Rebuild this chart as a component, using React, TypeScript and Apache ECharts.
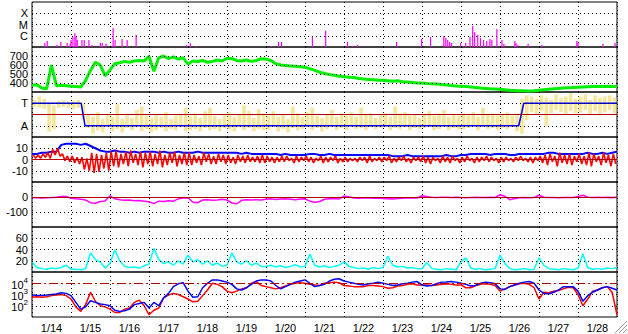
import React, { useEffect, useRef } from 'react';
import * as echarts from 'echarts';

// ---------- data ----------
const DAY_LABELS = ['1/14', '1/15', '1/16', '1/17', '1/18', '1/19', '1/20', '1/21', '1/22', '1/23', '1/24', '1/25', '1/26', '1/27', '1/28'];
const STEP = 0.125; // days (3-hour samples), t = 0 at 1/14 00:00

// X-ray flares: time (days) and peak flux (W/m^2)
const flareDays = [0.33, 0.39, 0.64, 0.74, 0.9, 0.98, 1.0, 1.05, 1.1, 1.13, 1.16, 1.28, 1.34, 1.46, 1.54, 1.75, 1.8, 1.9, 2.08, 2.13, 2.31, 2.44, 2.67, 3.96, 4.06, 4.21, 6.14, 6.32, 6.4, 7.19, 7.53, 8.09, 8.22, 8.35, 9.35, 9.99, 10.22, 10.56, 10.61, 10.66, 10.71, 10.76, 10.99, 11.12, 11.23, 11.3, 11.35, 11.43, 11.5, 11.58, 11.66, 11.74, 11.79, 11.92, 12.05, 12.1, 12.38, 12.41, 12.46, 12.72, 13.07, 13.97, 14.0, 14.64, 14.95];
const flareFlux = [2.3e-7, 3.4e-7, 1.5e-7, 2.8e-7, 2.3e-7, 1.9e-7, 4.2e-7, 7.8e-7, 1.7e-6, 7.8e-7, 4.2e-7, 4.2e-7, 4.2e-7, 4.2e-7, 1.5e-7, 2.3e-7, 2.3e-7, 1.9e-7, 4.9e-6, 4.2e-7, 5.1e-7, 4.2e-7, 1.2e-6, 1.5e-7, 2.3e-7, 1.2e-7, 1.2e-7, 2.8e-7, 2.8e-7, 8.3e-7, 2.8e-6, 2.8e-7, 1.2e-7, 1.5e-7, 2.8e-7, 5.1e-7, 7.8e-7, 9.5e-7, 6.3e-7, 4.2e-7, 2.8e-7, 2.3e-7, 2.3e-7, 2.3e-7, 7.8e-7, 7.4e-6, 2.1e-6, 1.2e-6, 6.3e-7, 4.2e-7, 3.4e-7, 5.1e-7, 4.2e-7, 4.0e-6, 4.2e-7, 1.9e-7, 3.4e-7, 2.3e-7, 1.5e-7, 1.9e-7, 1.5e-7, 3.4e-7, 2.3e-7, 1.9e-7, 2.3e-7];

// Solar wind speed (km/s), 3-hourly
const speed = [
  375, 380, 345, 335, 600, 370, 375, 370,
  365, 360, 355, 430, 540, 630, 600, 480,
  545, 615, 625, 640, 630, 645, 650, 645,
  695, 530, 680, 700, 670, 690, 665, 680,
  610, 645, 640, 650, 630, 640, 655, 645,
  675, 670, 650, 645, 655, 640, 650, 670,
  665, 650, 615, 600, 595, 590, 585, 580,
  575, 560, 540, 520, 505, 495, 485, 475,
  470, 465, 460, 450, 445, 440, 435, 430,
  430, 425, 420, 425, 415, 410, 405, 400,
  400, 395, 392, 388, 383, 378, 372, 368,
  365, 360, 355, 350, 345, 340, 335, 333,
  330, 325, 320, 318, 315, 313, 312, 315,
  320, 325, 330, 335, 340, 345, 348, 350,
  352, 355, 358, 360, 362, 360, 365, 362,
  360,
];

// IMF phi angle, sector scale (A = 1, T = 3), 3-hour bins: low / high
const phiLo = [
  2.7, 2.6, 2.5, 0.5, 0.7, 2.6, 2.7, 2.6,
  2.5, 2.6, 1.6, 0.8, 0.3, 0.6, 0.4, 0.9,
  0.5, 0.7, 0.4, 0.8, 0.6, 0.9, 0.5, 0.7,
  0.4, 0.6, 0.8, 0.5, 0.7, 0.6, 0.9, 0.5,
  0.6, 0.7, 0.5, 0.8, 0.6, 0.7, 0.5, 0.8,
  0.7, 0.5, 0.9, 0.6, 0.8, 0.5, 0.7, 0.6,
  0.6, 0.9, 0.5, 0.7, 0.4, 0.8, 0.6, 0.7,
  0.9, 0.6, 0.8, 0.5, 0.7, 0.9, 0.6, 0.8,
  0.6, 1.0, 0.7, 0.8, 0.6, 0.9, 0.7, 0.8,
  0.9, 0.6, 0.8, 0.7, 0.9, 0.6, 0.8, 0.7,
  0.8, 0.9, 0.6, 0.7, 1.0, 0.6, 0.8, 0.7,
  0.7, 0.8, 1.0, 0.6, 0.9, 0.7, 0.8, 0.6,
  0.8, 0.7, 0.9, 0.5, 0.3, 1.5, 2.2, 2.0,
  2.3, 1.0, 2.1, 2.4, 2.2, 2.0, 2.3, 2.1,
  2.2, 2.4, 2.0, 2.3, 1.9, 2.2, 2.4, 2.1,
];
const phiHi = [
  3.3, 3.6, 3.4, 3.0, 2.8, 3.2, 3.3, 3.1,
  3.2, 3.3, 2.9, 2.0, 1.8, 2.2, 1.6, 2.0,
  1.8, 2.9, 1.6, 2.1, 1.7, 2.4, 2.7, 1.9,
  1.7, 2.0, 1.8, 2.2, 1.6, 1.9, 2.0, 2.6,
  1.8, 2.1, 1.7, 2.3, 2.6, 1.9, 1.6, 2.0,
  2.2, 1.8, 2.0, 2.8, 2.3, 1.7, 2.5, 2.1,
  1.9, 2.3, 1.8, 2.0, 1.6, 2.7, 2.1, 1.8,
  2.2, 2.6, 1.9, 1.7, 2.0, 2.4, 1.8, 2.1,
  1.9, 2.2, 1.8, 2.6, 2.0, 2.1, 1.7, 2.0,
  2.1, 1.8, 2.7, 2.0, 2.2, 1.9, 2.0, 1.7,
  2.0, 2.3, 1.9, 2.1, 2.4, 1.8, 2.0, 1.9,
  2.1, 1.9, 2.2, 1.8, 2.6, 2.0, 2.1, 1.9,
  2.0, 2.2, 1.9, 2.1, 3.4, 3.7, 3.6, 3.4,
  3.7, 3.5, 3.3, 3.8, 3.5, 3.6, 3.9, 3.4,
  3.6, 3.8, 3.3, 3.7, 3.5, 3.6, 3.7, 3.5,
];
// Sector polarity (blue step): time (days) and level
const sectorDays = [0, 1.26, 1.36, 12.48, 12.61, 15];
const sectorLevel = [3, 3, 1, 1, 3, 3];

// IMF Bt (nT), 3-hourly
const bt = [
  5, 5, 6, 6, 7, 7, 13, 14,
  14, 14, 13, 14, 12, 10, 8, 7,
  7, 8, 7, 7, 6, 7, 6, 7,
  7, 7, 6, 7, 6, 6, 7, 6,
  6, 6, 7, 6, 6, 6, 6, 6,
  6, 6, 6, 5, 6, 5, 5, 5,
  5, 5, 5, 4, 5, 4, 4, 4,
  4, 5, 5, 4, 4, 5, 4, 4,
  4, 4, 4, 4, 4, 4, 4, 4,
  4, 4, 3, 3, 3, 4, 3, 3,
  3, 3, 3, 3, 3, 4, 3, 3,
  4, 4, 5, 5, 5, 5, 4, 5,
  5, 5, 4, 4, 5, 5, 5, 5,
  5, 5, 6, 6, 5, 5, 5, 5,
  5, 5, 6, 5, 5, 6, 5, 6,
  7,
];
// IMF Bz (nT), 3-hour bins: low / high
const bzLo = [
  1, 1, 2, 1, 4, 3, -1, -2,
  -3, -4, -9, -10, -12, -11, -8, -10,
  -6, -7, -4, -6, -3, -5, -7, -4,
  -6, -4, -7, -5, -3, -6, -4, -5,
  -5, -3, -5, -2, -4, -4, -2, -4,
  -3, -4, -2, -3, -2, -2, -3, -3,
  -2, -3, -2, -2, -1, -3, -2, -1,
  -2, -3, -1, -3, -2, -1, -3, -2,
  -2, -1, -2, -1, -3, -2, -1, -2,
  -1, -3, -2, -1, -2, -3, -1, -2,
  -3, -4, -1, -3, -2, -3, -1, -3,
  -2, -1, -3, -2, -1, -2, -1, -3,
  -2, -1, -2, -1, -1, -2, -3, -1,
  -3, -5, -2, -6, -3, -4, -5, -2,
  -4, -5, -6, -2, -5, -3, -6, -4,
];
const bzHi = [
  4, 4, 5, 6, 9, 10, 5, 3,
  3, 2, 2, 1, 6, 5, 4, 6,
  7, 8, 5, 7, 8, 5, 7, 6,
  7, 5, 8, 4, 6, 7, 4, 6,
  6, 4, 3, 6, 5, 3, 5, 4,
  4, 2, 4, 3, 4, 2, 3, 4,
  3, 2, 2, 3, 3, 1, 3, 2,
  3, 2, 1, 3, 2, 2, 3, 1,
  2, 1, 1, 2, 2, 3, 1, 2,
  2, 3, 1, 2, 3, 1, 2, 2,
  3, 2, 2, 1, 3, 2, 3, 1,
  2, 3, 1, 2, 2, 3, 2, 1,
  2, 2, 1, 2, 3, 1, 2, 2,
  3, 4, 5, 3, 6, 4, 5, 3,
  5, 3, 6, 5, 3, 6, 4, 5,
];

// Dst (nT), 3-hourly
const dst = [
  -3, -5, -6, -5, -4, -2, 3, 4,
  -8, -12, -15, -20, -38, -42, -30, -27,
  8, -12, -18, -22, -20, -25, -24, -28,
  -32, -44, -28, -30, -25, -28, -12, -6,
  -5, -35, -38, -20, -18, -22, -20, -15,
  -20, -40, -45, -22, -18, -20, -18, -20,
  -15, -12, -16, -14, -12, -15, -18, -13,
  -12, -28, -35, -30, -15, -12, -10, -13,
  5, 2, -6, -8, -7, -6, -8, -7,
  -10, -12, -14, -10, -8, -7, -6, -7,
  8, 2, -2, -3, -2, -1, -3, -2,
  -4, -5, -3, -2, -4, -3, -2, -3,
  15, 5, -18, -10, -5, -4, -5, -4,
  12, -2, -3, -4, -5, -3, -4, -3,
  3, 12, -2, -3, -2, -3, -2, -3,
  -2,
];

// Cyan index, 3-hourly
const cyanIdx = [
  18, 8, 6, 5, 7, 6, 8, 12,
  5, 5, 4, 6, 34, 22, 18, 7,
  15, 39, 20, 10, 8, 9, 7, 11,
  14, 42, 22, 15, 18, 12, 20, 14,
  30, 18, 22, 14, 20, 12, 16, 10,
  12, 34, 18, 14, 20, 12, 16, 10,
  10, 12, 9, 11, 8, 10, 13, 9,
  10, 32, 12, 9, 11, 8, 10, 12,
  18, 10, 8, 6, 7, 5, 8, 6,
  8, 28, 12, 9, 10, 7, 8, 6,
  6, 17, 6, 5, 4, 6, 5, 4,
  18, 25, 7, 5, 6, 4, 5, 6,
  30, 15, 6, 4, 5, 6, 4, 5,
  25, 12, 6, 5, 4, 6, 5, 4,
  7, 32, 8, 5, 6, 5, 7, 6,
  8,
];

// Electron flux, log10 values, 3-hourly
const eFluxBlueLog = [
  2.95, 2.93, 2.92, 2.95, 3.0, 3.05, 3.15, 3.1,
  2.9, 2.3, 1.7, 1.9, 2.45, 2.3, 2.15, 2.1,
  2.0, 1.6, 1.5, 1.55, 1.7, 2.1, 2.2, 2.3,
  1.8, 2.3, 2.0, 2.7, 3.1, 3.7, 3.95, 4.05,
  3.3, 2.75, 2.8, 3.6, 4.0, 4.3, 4.3, 4.2,
  4.1, 3.9, 3.5, 3.4, 3.6, 3.9, 4.2, 4.3,
  4.3, 4.2, 3.8, 3.5, 3.7, 3.9, 4.1, 4.2,
  4.3, 4.0, 3.7, 3.8, 3.9, 4.2, 4.35, 4.4,
  4.2, 4.1, 4.0, 3.9, 3.85, 3.95, 4.0, 4.1,
  4.0, 3.9, 3.8, 3.85, 3.95, 4.0, 4.1, 4.15,
  3.85, 3.75, 3.8, 3.95, 4.1, 4.12, 4.15, 4.1,
  4.0, 3.9, 3.75, 3.8, 4.0, 4.1, 4.05, 3.95,
  3.5, 3.45, 3.7, 3.85, 4.0, 4.1, 4.15, 4.0,
  3.4, 3.1, 3.05, 3.2, 3.4, 3.7, 3.7, 3.7,
  3.3, 2.4, 2.9, 3.2, 3.4, 3.6, 3.7, 3.55,
  3.4,
];
const eFluxRedLog = [
  2.75, 2.8, 2.75, 2.8, 2.9, 2.95, 3.0, 2.9,
  2.6, 1.9, 1.5, 2.1, 3.2, 2.4, 2.0, 1.9,
  1.7, 1.4, 1.4, 1.7, 1.8, 2.3, 2.5, 2.0,
  1.2, 1.6, 1.8, 2.7, 2.95, 3.1, 3.0, 2.8,
  2.6, 2.35, 2.4, 2.9, 3.4, 4.0, 3.9, 3.7,
  3.3, 3.15, 3.3, 3.5, 3.6, 4.0, 4.15, 3.8,
  3.7, 3.6, 3.5, 3.6, 3.75, 3.9, 4.0, 4.05,
  4.0, 3.9, 3.85, 3.8, 4.0, 4.05, 4.1, 4.05,
  3.8, 3.75, 3.7, 3.7, 3.7, 3.8, 3.8, 3.75,
  3.7, 3.55, 3.6, 3.75, 3.8, 3.9, 3.95, 3.85,
  3.85, 3.85, 3.8, 3.85, 3.9, 3.95, 3.9, 3.85,
  3.85, 3.6, 3.6, 3.8, 3.9, 3.95, 3.9, 3.8,
  3.3, 3.5, 3.7, 3.85, 3.95, 4.0, 3.9, 3.6,
  2.6, 3.2, 3.15, 3.3, 3.35, 3.5, 3.65, 3.6,
  3.0, 2.0, 2.6, 3.3, 3.4, 3.6, 3.7, 3.2,
  1.2,
];

// ---------- layout / style ----------
const FONT = "'Liberation Sans', Arial, Helvetica, sans-serif";
const FS = 11;
const PANEL_TOP = 2;
const PANEL_H = 45;
const LEFT = 32;
const RIGHT = 11;
const DOT: number[] = [1, 3];
const ZERO_RED = '#b40000';

const sampled = (arr: number[]) => arr.map((v, i) => [i * STEP, v]);
const binned = (lo: number[], hi: number[]) => lo.map((v, i) => [(i + 0.5) * STEP, v, hi[i]]);
// each bin drawn as a high-then-low stroke (noisy band look)
const zigzag = (lo: number[], hi: number[]) =>
  lo.flatMap((v, i) => [[(i + 0.25) * STEP, hi[i]], [(i + 0.75) * STEP, v]]);

const hLines = (dotted: number[], red?: { v: number; type: any }) => ({
  silent: true,
  symbol: ['none', 'none'],
  label: { show: false },
  emphasis: { disabled: true },
  animation: false,
  data: [
    ...dotted.map((v) => ({ yAxis: v, lineStyle: { color: '#000', type: DOT, width: 1 } })),
    ...(red ? [{ yAxis: red.v, lineStyle: { color: ZERO_RED, type: red.type, width: 1 } }] : []),
  ],
});

const labelMap = (m: Record<string, string>) => (v: number) => m[String(v)] ?? '';

function buildOption() {
  const grids = Array.from({ length: 7 }, (_, i) => ({
    left: LEFT,
    right: RIGHT,
    top: PANEL_TOP + i * PANEL_H,
    height: PANEL_H,
    show: true,
    borderColor: '#000',
    borderWidth: 1,
    backgroundColor: 'transparent',
  }));

  const xAxes: any[] = grids.map((_, i) => ({
    type: 'value',
    gridIndex: i,
    min: 0,
    max: 15,
    interval: 1,
    axisLabel: { show: false },
    axisTick: { show: false },
    axisLine: { show: false },
    splitLine: { show: true, lineStyle: { color: '#000', type: DOT, width: 1 } },
  }));
  xAxes.push({
    type: 'category',
    gridIndex: 6,
    data: DAY_LABELS,
    boundaryGap: true,
    position: 'bottom',
    axisLine: { show: false },
    axisTick: { show: false },
    splitLine: { show: false },
    axisLabel: { interval: 0, color: '#000', fontSize: FS, fontFamily: FONT, margin: 5 },
  });

  const yBase = (i: number) => ({
    gridIndex: i,
    axisLine: { show: false },
    axisTick: { show: false },
    splitLine: { show: false },
    axisLabel: { color: '#000', fontSize: FS, fontFamily: FONT, margin: 4, lineHeight: 9 },
  });

  const yAxes: any[] = [
    { ...yBase(0), type: 'value', min: 0, max: 4, interval: 1,
      axisLabel: { ...yBase(0).axisLabel, formatter: labelMap({ '1': 'C', '2': 'M', '3': 'X' }) } },
    { ...yBase(1), type: 'value', min: 300, max: 800, interval: 100,
      axisLabel: { ...yBase(1).axisLabel, formatter: labelMap({ '400': '400', '500': '500', '600': '600', '700': '700' }) } },
    { ...yBase(2), type: 'value', min: 0, max: 4, interval: 1,
      axisLabel: { ...yBase(2).axisLabel, formatter: labelMap({ '1': 'A', '3': 'T' }) } },
    { ...yBase(3), type: 'value', min: -20, max: 20, interval: 10,
      axisLabel: { ...yBase(3).axisLabel, formatter: labelMap({ '10': '10', '0': '0', '-10': '-10' }) } },
    { ...yBase(4), type: 'value', min: -200, max: 100, interval: 100,
      axisLabel: { ...yBase(4).axisLabel, formatter: labelMap({ '0': '0', '-100': '-100' }) } },
    { ...yBase(5), type: 'value', min: 0, max: 80, interval: 20,
      axisLabel: { ...yBase(5).axisLabel, formatter: labelMap({ '20': '20', '40': '40', '60': '60' }) } },
    { ...yBase(6), type: 'log', logBase: 10, min: 10, max: 100000,
      axisLabel: {
        ...yBase(6).axisLabel,
        formatter: (v: number) => {
          const e = Math.round(Math.log10(v));
          if (e < 2 || e > 4) return '';
          return `{b|10}{s|${e}}`;
        },
        rich: {
          b: { fontSize: FS, fontFamily: FONT, color: '#000', verticalAlign: 'bottom', lineHeight: 14 },
          s: { fontSize: 8, fontFamily: FONT, color: '#000', verticalAlign: 'top', lineHeight: 8 },
        },
      } },
  ];

  const rangeRenderer = (color: string, w: number) => (params: any, api: any) => {
    const t = api.value(0);
    const top = api.coord([t, api.value(2)]);
    const bot = api.coord([t, api.value(1)]);
    return {
      type: 'rect',
      shape: { x: top[0] - w / 2, y: top[1], width: w, height: Math.max(1, bot[1] - top[1]) },
      style: { fill: color },
    };
  };

  const series: any[] = [
    {
      type: 'bar', xAxisIndex: 0, yAxisIndex: 0,
      data: flareDays.map((t, i) => [t, Math.log10(flareFlux[i]) + 7]),
      barWidth: 1.2, itemStyle: { color: '#ff00ff' }, silent: true,
      markLine: hLines([1, 2, 3]),
    },
    {
      type: 'line', xAxisIndex: 1, yAxisIndex: 1, data: sampled(speed),
      showSymbol: false, lineStyle: { color: '#00f000', width: 3 }, silent: true,
      markLine: hLines([400, 500, 600, 700]),
    },
    {
      type: 'custom', xAxisIndex: 2, yAxisIndex: 2, data: binned(phiLo, phiHi),
      encode: { x: 0, y: [1, 2] }, renderItem: rangeRenderer('#f6e69c', 3.6), silent: true,
      markLine: hLines([1, 3], { v: 2, type: 'solid' }),
    },
    {
      type: 'line', xAxisIndex: 2, yAxisIndex: 2,
      data: sectorDays.map((t, i) => [t, sectorLevel[i]]),
      showSymbol: false, lineStyle: { color: '#0000ff', width: 1.5 }, silent: true,
    },
    {
      type: 'line', xAxisIndex: 3, yAxisIndex: 3, data: sampled(bt),
      showSymbol: false, lineStyle: { color: '#0000ff', width: 2 }, silent: true,
      markLine: hLines([10, -10]),
    },
    {
      type: 'line', xAxisIndex: 3, yAxisIndex: 3, data: zigzag(bzLo, bzHi),
      showSymbol: false, lineStyle: { color: '#ff0000', width: 1.6 }, silent: true,
      markLine: hLines([], { v: 0, type: 'solid' }),
    },
    {
      type: 'line', xAxisIndex: 4, yAxisIndex: 4, data: sampled(dst),
      showSymbol: false, lineStyle: { color: '#ff00ff', width: 1.5 }, silent: true,
      markLine: hLines([-100], { v: 0, type: 'solid' }),
    },
    {
      type: 'line', xAxisIndex: 5, yAxisIndex: 5, data: sampled(cyanIdx),
      showSymbol: false, lineStyle: { color: '#00ffff', width: 1.5 }, silent: true,
      markLine: hLines([20, 40, 60]),
    },
    {
      type: 'line', xAxisIndex: 6, yAxisIndex: 6, data: sampled(eFluxRedLog.map((v) => Math.pow(10, v))),
      showSymbol: false, lineStyle: { color: '#ff0000', width: 1.5 }, silent: true,
      markLine: hLines([100, 1000], { v: 10000, type: [9, 3, 2, 3] }),
    },
    {
      type: 'line', xAxisIndex: 6, yAxisIndex: 6, data: sampled(eFluxBlueLog.map((v) => Math.pow(10, v))),
      showSymbol: false, lineStyle: { color: '#0000ff', width: 1.5 }, silent: true,
    },
  ];

  return {
    animation: false,
    backgroundColor: '#ffffff',
    textStyle: { fontFamily: FONT },
    grid: grids,
    xAxis: xAxes,
    yAxis: yAxes,
    series,
    graphic: [
      { type: 'line', silent: true, shape: { x1: 615, y1: 333, x2: 627, y2: 321 }, style: { stroke: '#a0a0a0', lineWidth: 1 } },
      { type: 'line', silent: true, shape: { x1: 619, y1: 333, x2: 627, y2: 325 }, style: { stroke: '#a0a0a0', lineWidth: 1 } },
      { type: 'line', silent: true, shape: { x1: 623, y1: 333, x2: 627, y2: 329 }, style: { stroke: '#a0a0a0', lineWidth: 1 } },
    ],
  };
}

export default function App() {
  const ref = useRef<HTMLDivElement>(null);
  useEffect(() => {
    if (!ref.current) return;
    const chart = echarts.init(ref.current, null, { renderer: 'svg' });
    chart.setOption(buildOption() as any);
    return () => chart.dispose();
  }, []);
  return (
    <div
      ref={ref}
      style={{ position: 'fixed', left: 0, top: 0, width: 628, height: 334, background: '#fff' }}
    />
  );
}
